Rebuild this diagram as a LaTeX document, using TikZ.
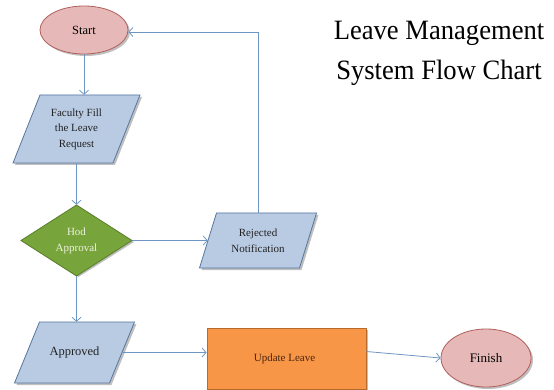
\documentclass[tikz,border=0pt]{standalone}
\usepackage{fontspec}
\setmainfont{Liberation Serif}
\usetikzlibrary{shapes.geometric,arrows.meta,calc}
\definecolor{pinkfill}{HTML}{E6B9B8}
\definecolor{pinkdraw}{HTML}{B0605C}
\definecolor{bluefill}{HTML}{B9CBE3}
\definecolor{bluedraw}{HTML}{56759F}
\definecolor{greenfill}{HTML}{78A43C}
\definecolor{greendraw}{HTML}{5A7E2A}
\definecolor{orangefill}{HTML}{F79646}
\definecolor{orangedraw}{HTML}{B8692C}
\definecolor{arrowcol}{HTML}{6F96C3}
\definecolor{darktext}{HTML}{222222}
\definecolor{browntext}{HTML}{4A2511}
\definecolor{hodtext}{HTML}{EEF3E0}
\tikzset{
  flowarrow/.style={draw=arrowcol, line width=0.8pt, -{Straight Barb[length=4pt,width=9pt]}},
  termbox/.style={ellipse, draw=pinkdraw, fill=pinkfill, line width=0.8pt, inner sep=0pt},
  parabox/.style={fill=bluefill, draw=bluedraw, line width=0.8pt},
  shadowbox/.style={fill=black, opacity=0.25, draw=none},
  textnode/.style={draw=none, inner sep=0pt, align=center, text=darktext},
  procbox/.style={rectangle, draw=orangedraw, fill=orangefill, line width=0.8pt, inner sep=0pt, text=browntext},
  diabox/.style={fill=greenfill, draw=greendraw, line width=0.8pt}
}
% #1 name, #2 cx, #3 cy, #4 body width, #5 height, #6 slant, #7 font size, #8 text
\newcommand\myPara[8]{%
  \fill[shadowbox] ({#2-#4/2-#6/2+2},{#3+#5/2+2}) -- ({#2+#4/2-#6/2+2},{#3+#5/2+2}) -- ({#2+#4/2+#6/2+2},{#3-#5/2+2}) -- ({#2-#4/2+#6/2+2},{#3-#5/2+2}) -- cycle;
  \draw[parabox] ({#2-#4/2-#6/2},{#3+#5/2}) -- ({#2+#4/2-#6/2},{#3+#5/2}) -- ({#2+#4/2+#6/2},{#3-#5/2}) -- ({#2-#4/2+#6/2},{#3-#5/2}) -- cycle;
  \node[textnode, minimum width=#4, minimum height=#5, font=\fontsize{#7}{15.5}\selectfont] (#1) at (#2,#3) {#8};
}
\begin{document}
\begin{tikzpicture}[x=1pt,y=-1pt]
\useasboundingbox (0,0) rectangle (554,390);
\fill[white] (0,0) rectangle (554,390);

% Title
\node[textnode, text=black, font=\fontsize{28}{40}\selectfont, xscale=0.95] (title) at (439,53) {Leave Management\\System Flow Chart};

% Start
\node[ellipse, fill=black, opacity=0.25, minimum width=88, minimum height=48] at (86,32) {};
\node[termbox, minimum width=88, minimum height=48, font=\fontsize{12.5}{15}\selectfont] (start) at (84,30) {Start};

% Faculty
\myPara{fac}{76.5}{129}{100}{68}{27}{11}{Faculty Fill\\the Leave\\Request}

% Hod diamond
\fill[shadowbox] (23,242) -- (78.5,207) -- (134,242) -- (78.5,277) -- cycle;
\draw[diabox] (21,240.5) -- (76.5,205) -- (132,240.5) -- (76.5,276) -- cycle;
\node[textnode, text=hodtext, minimum width=111, minimum height=71, font=\fontsize{11}{16}\selectfont] (hod) at (76.5,240.5) {Hod\\Approval};

% Rejected
\myPara{rej}{258}{240.5}{100}{55}{17}{11}{Rejected\\Notification}

% Approved
\myPara{appr}{74.5}{352.5}{95}{61}{25}{12.5}{Approved}

% Update Leave
\fill[shadowbox] (209,330) rectangle (368,391);
\node[procbox, minimum width=159, minimum height=61, font=\fontsize{11}{14}\selectfont] (upd) at (286.5,358.5) {\hspace*{-4pt}Update Leave};

% Finish
\node[ellipse, fill=black, opacity=0.25, minimum width=90, minimum height=58] at (488,360) {};
\node[termbox, minimum width=90, minimum height=58, font=\fontsize{13}{15}\selectfont] (fin) at (486,358) {Finish};

% Connectors
\draw[flowarrow] (start.south) -- (start.south |- fac.north);
\draw[flowarrow] (fac.south) -- (hod.north);
\draw[flowarrow] (hod.east) -- (hod.east -| rej.west);
\draw[flowarrow] (rej.north) |- ([yshift=-2pt]start.east);
\draw[flowarrow] (hod.south) -- (hod.south |- appr.north);
\draw[flowarrow] (appr.east) -- (appr.east -| upd.west);
\draw[flowarrow] ([yshift=7pt]upd.east) -- (fin.west);
\end{tikzpicture}
\end{document}
